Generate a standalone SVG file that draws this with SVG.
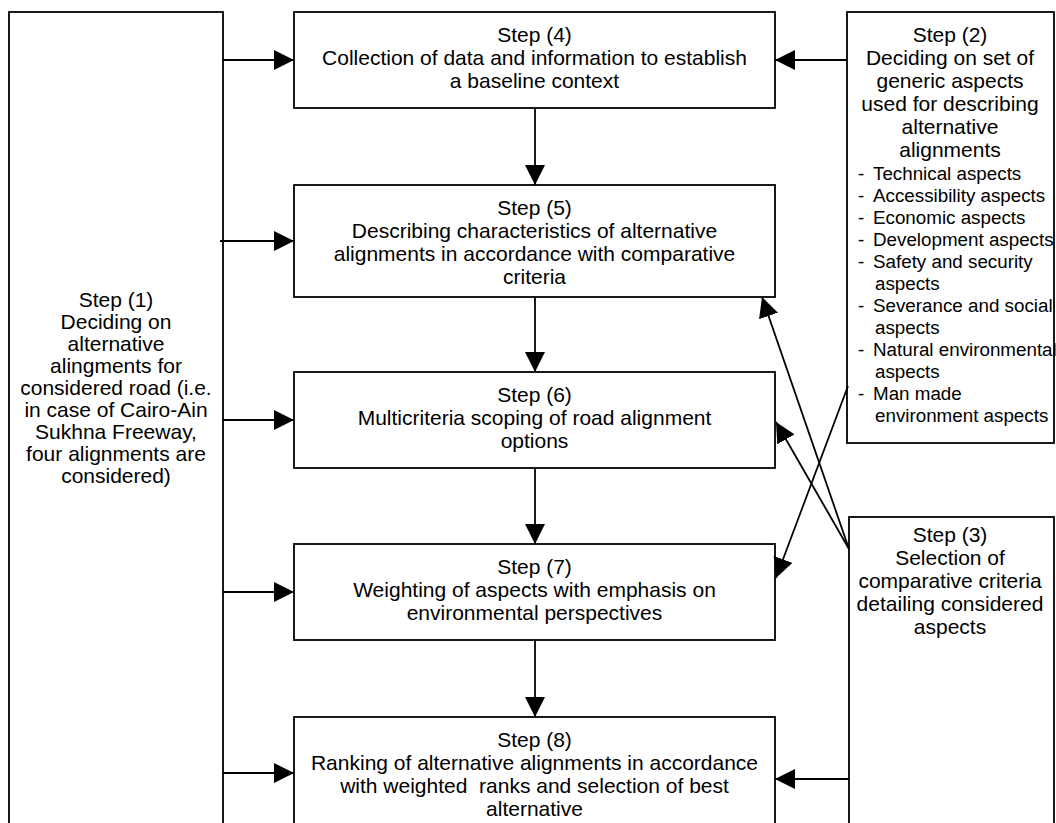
<svg xmlns="http://www.w3.org/2000/svg" width="1056" height="823" viewBox="0 0 1056 823">
<style>
  .box { fill: #fff; stroke: #000; stroke-width: 1.8; }
  .t { font-family: "Liberation Sans", Arial, sans-serif; font-size: 21px; fill: #000; text-anchor: middle; white-space: pre; }
  .l { font-family: "Liberation Sans", Arial, sans-serif; font-size: 18.8px; fill: #000; white-space: pre; }
  .c { fill: none; stroke: #000; stroke-width: 1.8; marker-end: url(#ah); }
</style>
<defs>
  <marker id="ah" markerWidth="20" markerHeight="20" refX="20" refY="10" orient="auto" markerUnits="userSpaceOnUse">
    <path d="M0,0 L20,10 L0,20 Z" fill="#000"/>
  </marker>
</defs>
<rect width="1056" height="823" fill="#fff"/>

<g id="step1">
  <rect class="box" x="9" y="12" width="214" height="830"/>
  <text class="t" x="116" y="307">Step (1)</text>
  <text class="t" x="116" y="329">Deciding on</text>
  <text class="t" x="116" y="351">alternative</text>
  <text class="t" x="116" y="373">alingments for</text>
  <text class="t" x="116" y="395">considered road (i.e.</text>
  <text class="t" x="116" y="417">in case of Cairo-Ain</text>
  <text class="t" x="116" y="439">Sukhna Freeway,</text>
  <text class="t" x="116" y="461">four alignments are</text>
  <text class="t" x="116" y="483">considered)</text>
</g>

<g id="step2">
  <rect class="box" x="847" y="12" width="207" height="431"/>
  <text class="t" x="950" y="42">Step (2)</text>
  <text class="t" x="950" y="65">Deciding on set of</text>
  <text class="t" x="950" y="88">generic aspects</text>
  <text class="t" x="950" y="111">used for describing</text>
  <text class="t" x="950" y="134">alternative</text>
  <text class="t" x="950" y="157">alignments</text>
  <text class="l" x="858" y="180">-</text><text class="l" x="873" y="180">Technical aspects</text>
  <text class="l" x="858" y="202">-</text><text class="l" x="873" y="202">Accessibility aspects</text>
  <text class="l" x="858" y="224">-</text><text class="l" x="873" y="224">Economic aspects</text>
  <text class="l" x="858" y="246">-</text><text class="l" x="873" y="246">Development aspects</text>
  <text class="l" x="858" y="268">-</text><text class="l" x="873" y="268">Safety and security</text>
  <text class="l" x="875" y="290">aspects</text>
  <text class="l" x="858" y="312">-</text><text class="l" x="873" y="312">Severance and social</text>
  <text class="l" x="875" y="334">aspects</text>
  <text class="l" x="858" y="356">-</text><text class="l" x="873" y="356">Natural environmental</text>
  <text class="l" x="875" y="378">aspects</text>
  <text class="l" x="858" y="400">-</text><text class="l" x="873" y="400">Man made</text>
  <text class="l" x="875" y="422">environment aspects</text>
</g>

<g id="step3">
  <rect class="box" x="849" y="517" width="205" height="330"/>
  <text class="t" x="950" y="542">Step (3)</text>
  <text class="t" x="950" y="565">Selection of</text>
  <text class="t" x="950" y="588">comparative criteria</text>
  <text class="t" x="950" y="611">detailing considered</text>
  <text class="t" x="950" y="634">aspects</text>
</g>

<g id="step4">
  <rect class="box" x="294" y="12" width="481" height="96"/>
  <text class="t" x="534.5" y="42">Step (4)</text>
  <text class="t" x="534.5" y="65">Collection of data and information to establish</text>
  <text class="t" x="534.5" y="88">a baseline context</text>
</g>

<g id="step5">
  <rect class="box" x="294" y="185" width="481" height="112"/>
  <text class="t" x="534.5" y="215">Step (5)</text>
  <text class="t" x="534.5" y="238">Describing characteristics of alternative</text>
  <text class="t" x="534.5" y="261">alignments in accordance with comparative</text>
  <text class="t" x="534.5" y="284">criteria</text>
</g>

<g id="step6">
  <rect class="box" x="294" y="372" width="481" height="96"/>
  <text class="t" x="534.5" y="402">Step (6)</text>
  <text class="t" x="534.5" y="425">Multicriteria scoping of road alignment</text>
  <text class="t" x="534.5" y="448">options</text>
</g>

<g id="step7">
  <rect class="box" x="294" y="544" width="481" height="96"/>
  <text class="t" x="534.5" y="574">Step (7)</text>
  <text class="t" x="534.5" y="597">Weighting of aspects with emphasis on</text>
  <text class="t" x="534.5" y="620">environmental perspectives</text>
</g>

<g id="step8">
  <rect class="box" x="294" y="717" width="481" height="130"/>
  <text class="t" x="534.5" y="747">Step (8)</text>
  <text class="t" x="534.5" y="770">Ranking of alternative alignments in accordance</text>
  <text class="t" x="534.5" y="793">with weighted  ranks and selection of best</text>
  <text class="t" x="534.5" y="816">alternative</text>
</g>

<g id="connectors">
  <path class="c" d="M223,60 H294"/>
  <path class="c" d="M220,241 H294"/>
  <path class="c" d="M223,420 H294"/>
  <path class="c" d="M223,592 H294"/>
  <path class="c" d="M223,773 H294"/>
  <path class="c" d="M847,60 H775"/>
  <path class="c" d="M849,779 H775"/>
  <path class="c" d="M535,108 V185"/>
  <path class="c" d="M535,297 V372"/>
  <path class="c" d="M535,468 V544"/>
  <path class="c" d="M535,640 V717"/>
  <path class="c" d="M849,549 L762,297"/>
  <path class="c" d="M849,549 L776,422"/>
  <path class="c" d="M848,386 L776,578"/>
</g>
</svg>
